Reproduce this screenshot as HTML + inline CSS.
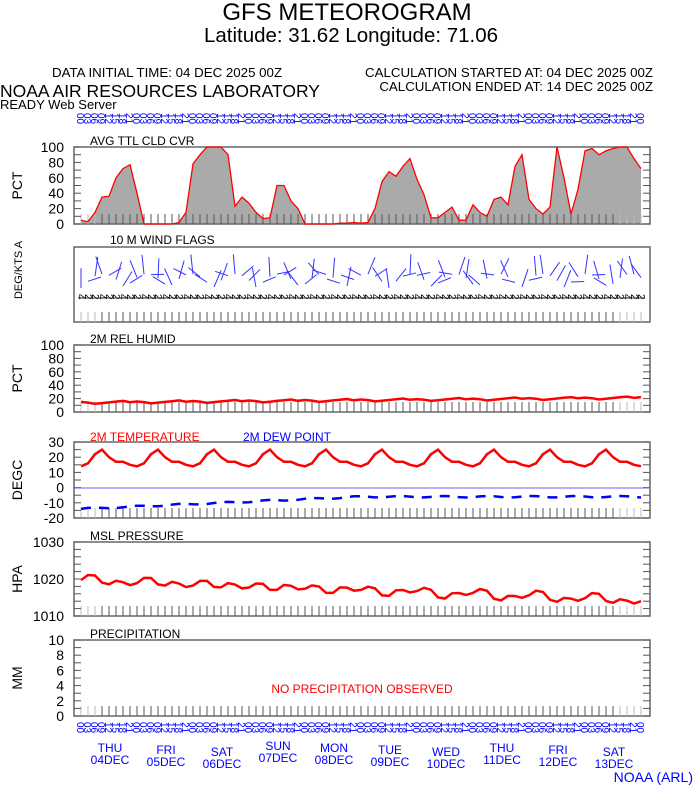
<!DOCTYPE html>
<html><head><meta charset="utf-8"><style>
body{margin:0;background:#fff;width:694px;height:788px;overflow:hidden}
svg{font-family:"Liberation Sans",sans-serif}
</style></head><body>
<svg id="s" width="694" height="788" xmlns="http://www.w3.org/2000/svg">
<text x="347" y="20" font-size="24" text-anchor="middle">GFS METEOROGRAM</text>
<text x="351" y="42" font-size="20.5" text-anchor="middle">Latitude: 31.62 Longitude:  71.06</text>
<text x="52" y="77" font-size="13.3">DATA INITIAL TIME: 04 DEC 2025 00Z</text>
<text x="653" y="77" font-size="13.3" text-anchor="end">CALCULATION STARTED AT: 04 DEC 2025 00Z</text>
<text x="653" y="91" font-size="13.3" text-anchor="end">CALCULATION ENDED AT: 14 DEC 2025 00Z</text>
<text x="0" y="97" font-size="17.5">NOAA AIR RESOURCES LABORATORY</text>
<text x="0" y="109" font-size="13">READY Web Server</text>
<text x="693" y="782" font-size="14" fill="#0000ff" text-anchor="end">NOAA (ARL)</text>
<g id="g"></g>
</svg>
<script>
var g=document.getElementById('g'),h='';
var X0=81,DX=7,L=74,R=650;
function x(i){return X0+DX*i}
function line(a,b,c,d,col,w,extra){h+='<line x1="'+a+'" y1="'+b+'" x2="'+c+'" y2="'+d+'" stroke="'+col+'" stroke-width="'+(w||1)+'" '+(extra||'')+'/>'}
function txt(t,a,b,s,col,anc,extra){h+='<text x="'+a+'" y="'+b+'" font-size="'+s+'" fill="'+(col||'#000')+'" text-anchor="'+(anc||'start')+'" '+(extra||'')+'>'+t+'</text>'}
function box(t,b){h+='<rect x="'+L+'" y="'+t+'" width="'+(R-L)+'" height="'+(b-t)+'" fill="none" stroke="#666" stroke-width="1.5"/>';
 for(var i=0;i<=80;i++){line(x(i),b,x(i),b-10,i<3||i>76?'#bbb':'#555',1)}}
function yt(t,b,labs,lab,n){for(var k=0;k<labs.length;k++){var y=b-(b-t)*k/(labs.length-1);txt(labs[k],64,y+5,14,'#000','end');}
 for(var k=0;k<=n;k++){var y=b-(b-t)*k/n;line(L,y,L+7,y,'#555');line(R-7,y,R,y,'#555')}
 txt(lab,0,0,14,'#000','middle','transform="translate(22,'+((t+b)/2)+') rotate(-90)"')}
function path(v,t,b,mn,mx,col,w,extra){var d='';for(var i=0;i<v.length;i++){d+=(i?'L':'M')+x(i)+','+(b-(v[i]-mn)/(mx-mn)*(b-t)).toFixed(1)}h+='<path d="'+d+'" fill="none" stroke="'+col+'" stroke-width="'+w+'" '+(extra||'')+'/>';return d}
var hrs=['00','03','06','09','12','15','18','21'];
for(var i=0;i<=80;i++){var hh=hrs[i%8];
 txt(hh,x(i)-4,113,10,'#0000ff','start','transform="rotate(90 '+(x(i)-4)+' 113)"');
 txt(hh,x(i)-4,722,10,'#0000ff','start','transform="rotate(90 '+(x(i)-4)+' 722)"');}
var days=['THU','FRI','SAT','SUN','MON','TUE','WED','THU','FRI','SAT'];
var dyoff=[0,2,4,-2,0,2,4,0,2,4];
for(var d=0;d<10;d++){var cx=110+56*d,yy=752+dyoff[d];txt(days[d],cx,yy,12,'#0000ff','middle');txt(('0'+(4+d)).slice(-2)+'DEC',cx,yy+12,12,'#0000ff','middle')}
var cl=[5,3,15,35,36,60,72,77,40,0,0,0,0,0,2,15,78,90,100,100,100,90,23,35,27,15,7,8,50,50,30,20,0,0,0,0,0,1,1,2,1,2,20,55,68,62,75,85,58,38,8,8,15,22,5,5,25,15,10,32,35,25,75,90,32,20,13,22,100,60,13,45,95,98,90,95,98,100,100,85,72];
box(147,224);yt(147,224,['0','20','40','60','80','100'],'PCT',10);
var d=path(cl,147,224,0,100,'none',0);
h='<path d="'+d+'L'+x(80)+',224L'+x(0)+',224Z" fill="#aaa"/>'+h;
path(cl,147,224,0,100,'#ff0000',1.3);
txt('AVG TTL CLD CVR',90,145,12);
box(247,322);txt('10 M  WIND FLAGS',110,244,12);
txt('DEG/KTS  A',0,0,11,'#000','middle','transform="translate(22,270) rotate(-90)"');
for(var i=0;i<=80;i++){var a=Math.sin(i*1.7)*1.5+i*0.3,len=22;var y0=288-Math.abs(Math.sin(i*0.5))*14;
 line(x(i),y0,x(i)+len*Math.sin(a)*0.6,y0-len*Math.abs(Math.cos(a))*0.9,'#3333ff',1);
 txt(i%3==0?'4':'2',x(i)-3,294,10,'#000','start','transform="rotate(90 '+(x(i)-3)+' 294)"')}
line(80,298,645,298,'#000',0.8);
var rh=[];for(var i=0;i<=80;i++){var p=i%8;rh.push(11+i*0.09+[4,3,1,2,3,4,5,6][p]+(p==7?-3:0))}
box(345,412);yt(345,412,['0','20','40','60','80','100'],'PCT',10);txt('2M REL HUMID',90,343,12);
path(rh,345,412,0,100,'#ff0000',2.5);
var tb=[14,16,22,25,20,17,17,15];var tp=[];var dp=[];
for(var i=0;i<=80;i++){tp.push(tb[i%8]);dp.push(-14+8*Math.min(1,i/40)+0.5*Math.sin(i))}
box(442,518);yt(442,518,['-20','-10','0','10','20','30'],'DEGC',10);
txt('2M TEMPERATURE',90,441,12,'#ff0000');txt('2M  DEW POINT',243,441,12,'#0000ff');
line(L,488,R,488,'#6666ff',1);
path(tp,442,518,-20,30,'#ff0000',2.5);path(dp,442,518,-20,30,'#0000ff',2.5,'stroke-dasharray="10,8"');
var pb=[0,1.2,1,-0.8,-1,0.3,0.2,-0.5];var pr=[];
for(var i=0;i<=80;i++){pr.push(1019.7-5.5*(i/80)+pb[i%8]+0.4*Math.sin(i*0.7))}
box(542,616);yt(542,616,['1010','1020','1030'],'HPA',10);txt('MSL PRESSURE',90,540,12);
path(pr,542,616,1010,1030,'#ff0000',2.5);
box(640,716);yt(640,716,['0','2','4','6','8','10'],'MM',10);txt('PRECIPITATION',90,638,12);
txt('NO PRECIPITATION OBSERVED',362,693,12,'#ff0000','middle');
g.innerHTML=h;
</script>
</body></html>
